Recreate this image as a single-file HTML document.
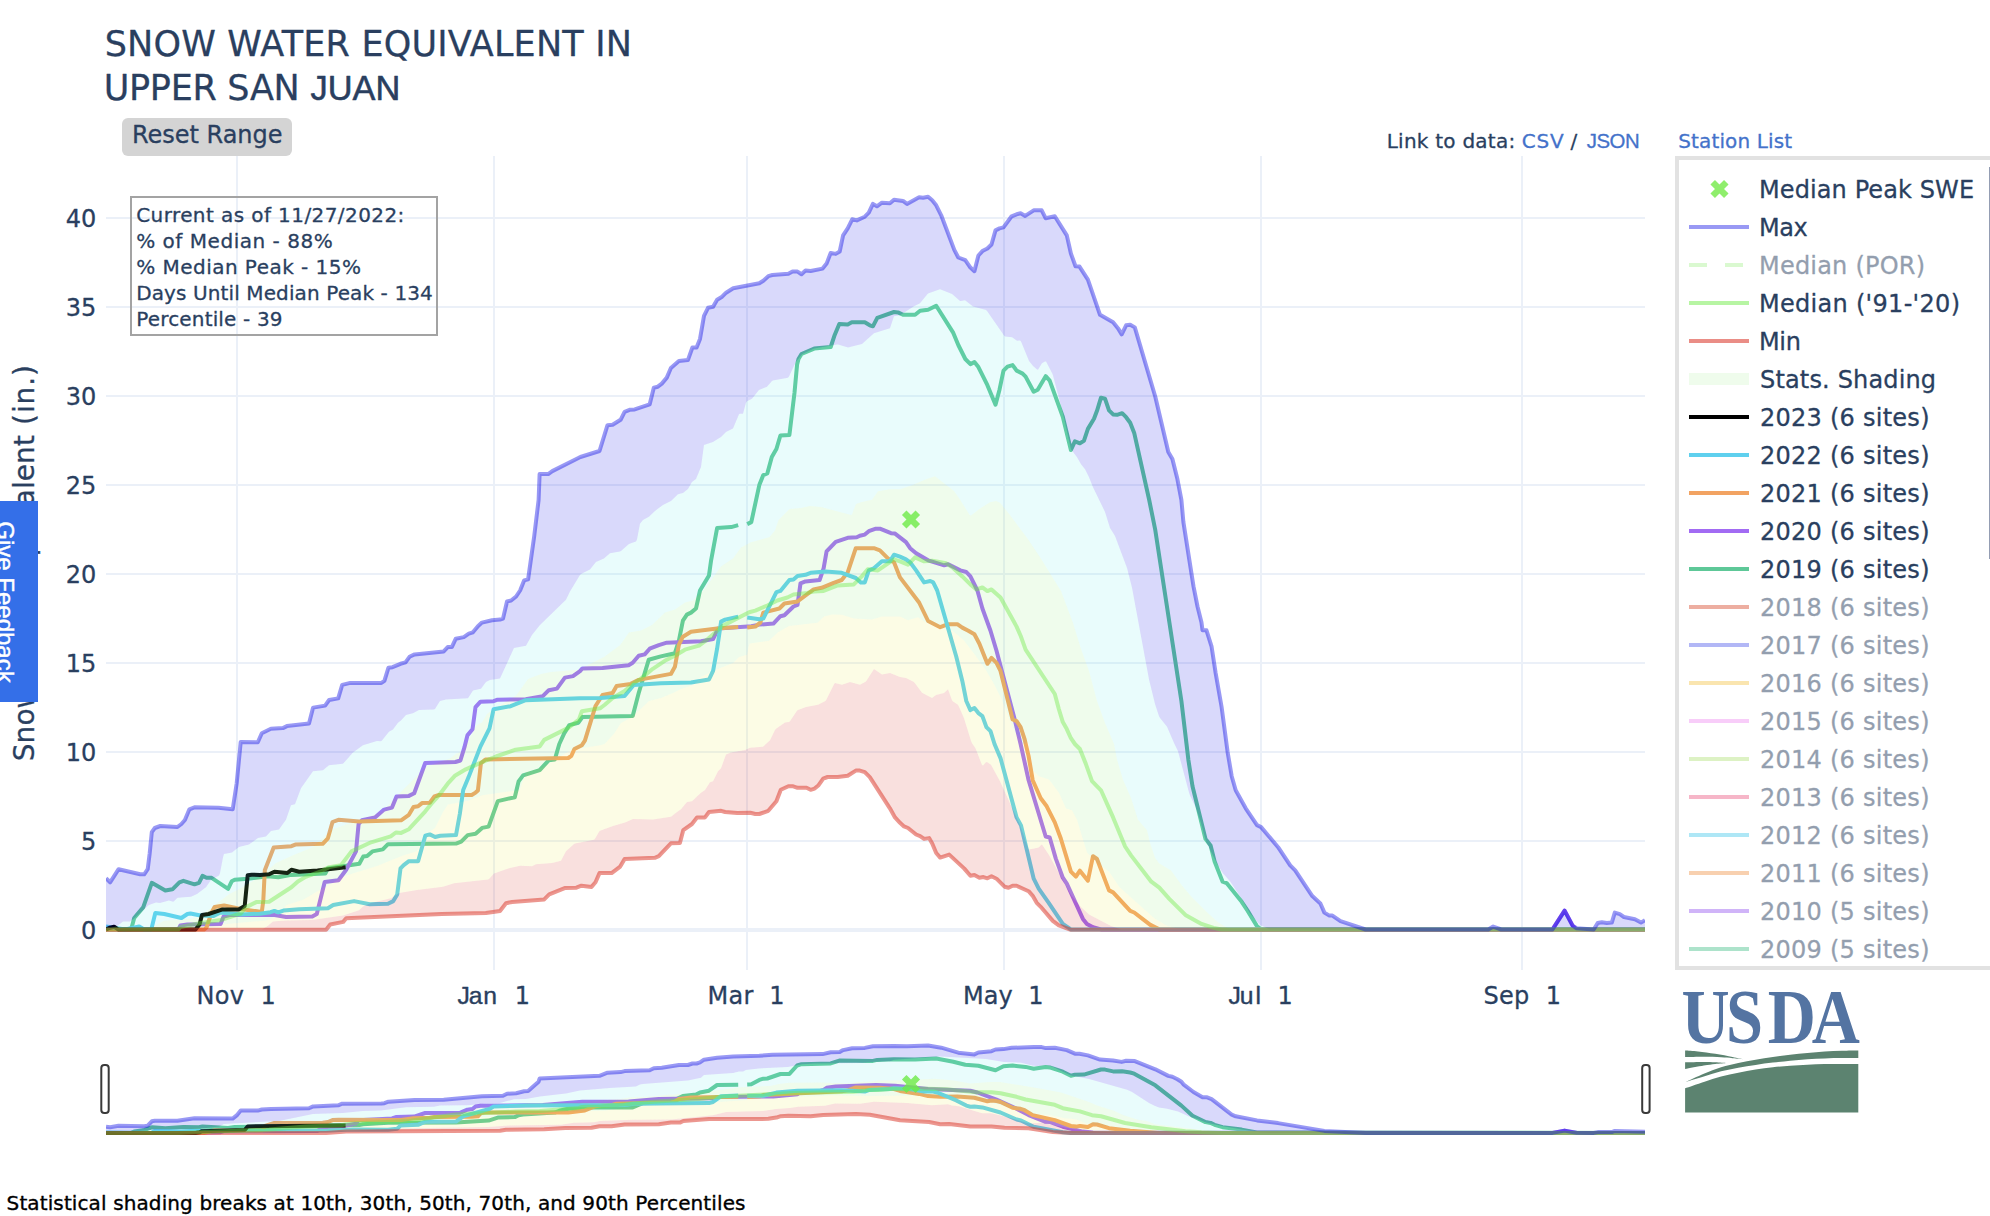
<!DOCTYPE html>
<html lang="en"><head><meta charset="utf-8"><title>Snow Water Equivalent in Upper San Juan</title>
<style>html,body{margin:0;padding:0;background:#fff;}body{width:1990px;height:1216px;overflow:hidden;position:relative;font-family:"DejaVu Sans","Liberation Sans",sans-serif;}svg{position:absolute;left:0;top:0;display:block}text{font-family:"DejaVu Sans","Liberation Sans",sans-serif;stroke-linejoin:round}</style></head><body>
<svg width="1990" height="1216" viewBox="0 0 1990 1216">
<rect width="1990" height="1216" fill="#fff"/>
<g fill="#ebf0f8" shape-rendering="crispEdges">
<rect x="236" y="156" width="2" height="814"/>
<rect x="493" y="156" width="2" height="814"/>
<rect x="746" y="156" width="2" height="814"/>
<rect x="1003" y="156" width="2" height="814"/>
<rect x="1260" y="156" width="2" height="814"/>
<rect x="1521" y="156" width="2" height="814"/>
<rect x="106" y="840" width="1539" height="2"/>
<rect x="106" y="751" width="1539" height="2"/>
<rect x="106" y="662" width="1539" height="2"/>
<rect x="106" y="573" width="1539" height="2"/>
<rect x="106" y="484" width="1539" height="2"/>
<rect x="106" y="395" width="1539" height="2"/>
<rect x="106" y="306" width="1539" height="2"/>
<rect x="106" y="217" width="1539" height="2"/>
<rect x="106" y="928" width="1539" height="4"/>
</g>
<defs><clipPath id="cpm"><rect x="106" y="156" width="1539" height="814"/></clipPath><clipPath id="cps"><rect x="106" y="1040" width="1539" height="99"/></clipPath></defs>
<g clip-path="url(#cpm)" fill="none" stroke-linejoin="round" stroke-linecap="butt">
<path d="M106,929.3L131.2,929.3L134.2,918L143.2,907.4L151.8,882.8L165.3,890.4L172.4,889.3L179.4,882.3L183.4,880.8L194.5,884.3L199,882.8L202.5,875.8L206.5,877.8L211.6,877.8L228.1,888.8L231.7,881.3L234.7,879.8L247.7,878.8L267.8,876.2L278.3,877.3L291.4,874.9L325.3,873.6L327.9,868.4L359.3,863.8L363.2,856.6L367.1,856L372.4,851.4L382.8,849.4L388,844.2L456,843.6L461.2,841.6L467.7,835.1L475.6,833.8L482.1,827.9L488.6,826.6L497.8,801.1L514.8,797.2L518.6,781.4L523.1,775.4L539.7,770.1L548.7,760.3L554.8,759.5L559.3,744L564.3,733.2L569.3,725.1L578.4,722.7L582.4,717.1L632.7,716.1L638.7,693L648.7,659.8L660.8,656.4L674.9,653.2L678.9,640.7L682.9,620.6L686.9,614.6L691,612.6L696,608.5L700,590.5L709,575.4L711.1,560.3L717.1,528.1L731.2,527.1L738.2,525.1" stroke="#5ec898" stroke-width="4"/>
<path d="M747.2,524.1L751.3,522.1L759.3,485.1L763.3,475.1L767.3,473.5L771.8,457L776.4,449L780.4,435.5L789.4,434.9L794.5,392.7L797.1,364.5L798.5,359L801.5,354L814.2,348.6L830.7,347L834.7,334.9L839.3,323.9L847.7,324.5L851.8,322.3L864.8,322.3L869.8,325.3L872.9,326.3L877.3,317.8L894,312L898,312.4L903,314.8L915.1,314.8L920.1,310.8L928.1,309.8L936.2,305.8L953.3,332.9L958.3,345L965.3,359L970.4,364.1L974.4,362.1L978.4,367.1L987.4,385.2L995.5,404.7L999.5,389.7L1003.5,370.6L1007.5,366.6L1012.6,365.1L1016.6,370.6L1022.6,373.6L1025.6,376.6L1033.7,391.7L1037.7,389.7L1045.7,376.2L1049.7,380.6L1062.8,416.8L1070.9,450L1074.9,441.3L1079.9,443.3L1083.9,440.9L1087.9,428.9L1094,418.8L1097,410.8L1101,397.7L1105,398.7L1109,410.4L1113.1,414.4L1117.1,414.8L1122.1,413.2L1126.1,417.2L1130.2,422.8L1134.2,432.9L1149.2,500L1155.3,530.2L1181.4,701L1188.4,760.1L1192.5,786.2L1205.5,838.9L1210.6,845.5L1214.6,861.6L1222.6,881.7L1226.6,883.1L1241.7,901.8L1247.7,910.9L1256.8,925.9L1260.8,929.3L1645,929.3" stroke="#5ec898" stroke-width="4"/>
<path d="M106,929.4L178.4,929.4L180.4,925.5L187.4,924.5L220.6,924L223.6,916.5L229.6,915L273.1,914.8L286.1,917L312.3,916.5L316.8,914.1L324.7,882.1L338.4,880.2L346.2,869.7L356,851.4L358.6,824L361.9,820.3L375,817.4L384.1,809.6L392,807.6L396.5,796.5L408.9,795.9L414.2,793.3L425.2,763L455.4,762L460.4,760.5L464.4,747.4L467.4,735.4L472.5,729.3L475.5,707.2L480.5,701.7L493.6,701.2L497.6,699.7L525.7,699.2L542.8,696.2L548.8,690.2L556.9,688.6L564.9,677.6L573,676.1L580,671.1L582.4,668.4L602.5,668L628.6,665.2L632.7,662.8L638.7,655.8L644.7,654.4L649.7,648.7L658.8,645.1L666.8,642.7L701,641.3L713.1,639.1L718.1,628.6L751.3,626.2L759.3,624.6L773.4,623.6L780.4,616.2L784.4,615.2L793.5,606.5L797.5,604.9L800.5,583.4L805.5,581.4L819.6,580L823.6,568.3L826.6,551.3L835.7,541.8L847.7,537.8L856.8,537.2L859.8,535.8L864.8,534.6L868.8,531.2L875.9,528.7L879.9,528.7L891,533.2L895,533.6L906,542.2L910.1,548.2L916.1,553.3L928.1,560.3L944.2,565.3L948.2,564.3L960.3,570.4L966.3,572L970.4,576.4L977.4,590.5L982.4,608.5L990.5,630.7L996.5,650.8L1014.6,719.1L1020.6,744L1028.6,780.2L1045.7,836.5L1049.7,837.5L1055.8,858.6L1062.8,877.7L1066.8,883.7L1082.9,918.9L1086.9,923.9L1093,927.3L1101,929.4L1552.5,929.4L1564.6,910.6L1572.6,925.6L1576.6,929.4L1645,929.4" stroke="#a26bf3" stroke-width="4"/>
<path d="M106,929.4L204.5,929.4L206.5,927.5L211.6,912.5L214.6,906.9L224.1,905.4L240.7,908.9L261.8,912L263.3,900.4L264.8,870.3L273.7,847.5L291.4,846.2L295.3,844.6L322.7,843.8L327.9,838.3L332.5,822L338.4,819.8L359.3,821.4L401.1,820.3L408.9,814.8L413.5,807L418.1,806.3L422,803.1L429.8,802.8L434.4,796.5L439,795L471.7,795L475.6,792.6L477.9,790.5L480.9,763.3L485.4,759.5L568.3,758L571.4,755.8L574.4,749L581.9,745.2L584.9,740.7L595.5,706L602.5,695L612.6,693L616.6,685.9L630.7,683.9L638.7,679.9L670.9,673.9L674.9,666.8L678.9,644.7L682.9,636.7L691,631.7L717.1,628.6L738.2,627" stroke="#f2a362" stroke-width="4"/>
<path d="M747.2,627.6L755.3,626.6L760.3,622.6L763.3,612.6L779.4,608.5L784.4,603.5L797.5,601.5L813.6,589.4L821.6,587.8L833.7,582.8L841.7,580L847.7,572.4L855.8,548.2L873.9,548.2L879.9,550.3L887.9,558.3L894,562.3L900,577.4L919.1,602.5L928.1,621L940.2,627.2L948.2,624.2L957.3,624.2L962.3,627.6L968.3,630.7L974.4,634.3L979.4,643.7L987.4,663.8L991.5,657.8L996.5,662.8L1000.5,670.9L1012.6,719.5L1016.6,721.1L1020.6,727.1L1024.6,739.2L1028.6,756.1L1032.7,780.2L1040.7,798.3L1046.7,806.3L1054.8,822.4L1060.8,838.5L1070.9,871.7L1075.9,876.7L1079.9,870.7L1087.9,880.7L1093,856.2L1097,859L1109,890.4L1113.1,892.4L1130.2,910.9L1134.2,912.5L1150.3,924.9L1159.3,929.4L1645,929.4" stroke="#f2a362" stroke-width="4"/>
<path d="M106,926.5L125.1,929.4L139.2,926.5L144.2,929.4L151.3,929.4L155.3,913L164.3,914L181.4,918L187.4,914L190.5,913.5L200.5,915.5L213.6,916L220.6,912.5L240.7,914.5L259.8,913.7L270.5,912.2L274.4,910.9L278.3,912.4L283.5,910.6L299.2,909.2L327.9,908.2L333.2,905L354.1,901.1L369.7,904.3L388,903.7L393.3,901.1L397.2,894.5L400.5,868.4L403.7,865.1L408.9,861.2L418.1,861.2L425.3,835.7L429.8,834.4L435.1,837L440.3,835.7L456,835.1L459.9,813.5L463.2,790L468.4,777.6L480.5,746.4L489.5,728.3L493.6,709.2L510.7,706.2L525.7,700.2L580,698.2L600.5,698L624.6,696L633.7,684.9L660.8,683.3L691,682.5L709,679.5L713.1,670.9L717.1,648.7L721.1,621.6L725.1,619.6L738.2,616.6" stroke="#5fd0ee" stroke-width="4"/>
<path d="M747.2,617.6L759.3,619.2L763.3,618.6L776.4,592.1L780.4,590.9L789.4,580L793.5,579.4L797.5,576L805.5,574.8L810.6,572.8L825.6,571.4L841.7,572.8L855.8,578L860.8,582.4L864.8,582.4L868.8,570.4L873.9,568.3L881.9,561.3L889.9,561.3L894,554.7L900,556.7L906,559.3L910.1,562.3L916.1,570.4L924.1,582.4L930.2,581L933.2,582.4L937.2,590.5L956.3,656.8L962.3,680.9L966.3,701L970.4,710.1L974.4,708L978.4,713.1L982.4,716.1L986.4,727.1L990.5,731.2L994.5,744L1000.5,758.1L1016.6,817.4L1021,825.4L1033.7,878.7L1038.7,888.7L1048.7,902.8L1062.8,923.9L1070.9,929.4L1645,929.4" stroke="#5fd0ee" stroke-width="4"/>
<path d="M106,929.4L110.1,927.7L114.1,926.7L118.1,929.4L195.5,929.4L199.5,924.5L202,915L208.5,914L222.6,909.4L238.7,909.4L244.7,905.9L247.7,875.3L251.8,874.8L260,874.9L269.1,874.3L274.4,871.7L287.4,873L291.4,869.7L299.2,871.7L317.5,870.4L345.6,867.3" stroke="#000000" stroke-width="4"/>
<path d="M106,929.5L262,929.5L268,925.7L273,921.4L286,920.4L312,920L343,915.5L359,910.3L363,906.5L371,903L391,898.2L399,893.1L417,889.9L443,886.7L454,883.3L488,879.6L489,879.1L494,873.6L509,868.2L520,865.8L532,866.2L536,864.3L552,863L561,860.7L566,851.2L574,843.9L575,843.4L594,839.8L595,838.8L599,831.7L600,830.7L613,825.9L625,822.6L633,819L653,819.4L671,816.7L677,811.9L681,809.2L687,801.9L692,801.3L701,792.7L705,789.9L710,782.3L713,781.2L718,771.3L721,768.2L726,754.4L731,752.5L745,750.1L750,747.8L763,746.7L770,740.3L775,730L776,728.7L785,722.4L789,722.1L790,721.3L797,710.8L798,709.9L806,707L818,704.8L825,701.3L826,700.3L834,684.3L835,683L842,684.8L850,682L860,684.8L866,681.6L874,668.9L882,674.5L890,672.9L900,676.9L906,677.9L907,678.4L914,681.9L922,692.8L932,697.9L936,695.1L944,693L948,689.2L952,700.2L953,701.5L958,704.8L959,706.7L964,718.3L971,740.8L972,743.2L975,747.5L976,749.6L982,765.1L983,765.5L986,762.2L987,762.1L991,764.8L1000,781.3L1020,825.1L1028,847.7L1029,849.5L1038,847.7L1039,847.2L1041,844.9L1042,844.6L1049,855L1071,894.9L1081,906.9L1089,914.5L1111,925.9L1121,929.5L1645,929.5L1645,929.5L1071,929.5L1059,925.4L1053,921.1L1041,907.2L1037,903.1L1033,896.4L1029,891.6L1028,890.9L1016,885.7L1013,885.7L1009,887.5L1008,887.6L1005,886.9L997,879.2L992,876.5L991,876.5L987,878.2L983,877.1L979,877.5L974,875.1L971,875.6L970,875.3L964,868.3L949,854.7L941,857.3L940,857.4L936,852.5L932,843.2L929,838.1L924,838.8L920,836L916,834.4L908,828L904,826.4L900,822.8L895,817.4L890,808.4L870,777.4L865,772.3L860,770.6L856,770.6L848,775.6L847,775.9L838,776.9L828,777L824,778.3L823,778.9L818,785.7L815,788.3L811,789.7L806,787.8L798,787.8L792,786.2L788,786.4L781,789.8L776,801.8L769,810L768,810.9L760,813.7L755,813.9L750,812.8L737,812.9L725,811.9L721,810.8L709,812L705,817.4L697,817.6L692,824L684,829.6L683,831.2L680,842.5L679,843L671,843.3L659,856L658,856.5L654,857.8L625,859L624,860.1L620,866.8L612,872.7L611,873.1L600,873.1L599,874.2L595,882.9L592,886.3L591,886.9L582,885.8L576,887.7L565,888.1L550,894.1L549,894.6L544,899.4L512,902L506,903.3L500,910.9L486,912.9L442,913.9L347,918.3L346,918.6L343,922L330,924.7L326,929.5L106,929.5Z" fill="rgba(218,47,33,0.15)" stroke="none"/>
<path d="M106,929.5L190,929.5L221,924.5L266,920.4L280,915.8L281,915.3L286,905.2L303,899.8L343,876.6L377,866L403,855.6L416,851.6L417,851L427,833.5L435,827.9L443,812.1L448,804.6L469,800.5L482,795.3L519,790.1L520,789.3L526,772.7L527,772.1L541,767.9L571,750L600,745.2L604,744.2L605,743.5L614,733.8L621,722.9L629,718.8L641,708.7L649,700.9L661,697.9L673,692.9L681,688.9L693,684.9L701,676.9L713,670.9L733,662.9L739,657L747,654.8L749,645.1L750,643.6L769,640.8L778,632.3L789,625.9L817,622.7L818,622.2L824,616.5L832,614.6L842,614.7L854,618.6L871,619.6L872,619.6L882,616.6L900,616.6L908,620.2L918,617.2L926,622.5L940,628.6L952,630.6L964,640.4L976,656.3L986,670.2L994,684.1L1002,700L1009,718.2L1014,729.8L1022,743L1023,743.9L1028,742.2L1029,744.5L1033,770.5L1039,776.3L1049,779.5L1059,792.7L1066,808.4L1072,810.2L1077,819.8L1087,852.6L1099,864.6L1109,871.6L1119,886.6L1120,887.6L1141,906.6L1155,918.7L1167,925.7L1182,929.5L1645,929.5L1645,929.5L1121,929.5L1111,925.9L1089,914.5L1081,906.9L1071,894.9L1049,855L1042,844.6L1041,844.9L1039,847.2L1038,847.7L1029,849.5L1028,847.7L1020,825.1L1000,781.3L991,764.8L987,762.1L986,762.2L983,765.5L982,765.1L976,749.6L975,747.5L972,743.2L971,740.8L964,718.3L959,706.7L958,704.8L953,701.5L952,700.2L948,689.2L944,693L936,695.1L932,697.9L922,692.8L914,681.9L907,678.4L906,677.9L900,676.9L890,672.9L882,674.5L874,668.9L866,681.6L860,684.8L850,682L842,684.8L835,683L834,684.3L826,700.3L825,701.3L818,704.8L806,707L798,709.9L797,710.8L790,721.3L789,722.1L785,722.4L776,728.7L775,730L770,740.3L763,746.7L750,747.8L745,750.1L731,752.5L726,754.4L721,768.2L718,771.3L713,781.2L710,782.3L705,789.9L701,792.7L692,801.3L687,801.9L681,809.2L677,811.9L671,816.7L653,819.4L633,819L625,822.6L613,825.9L600,830.7L599,831.7L595,838.8L594,839.8L575,843.4L574,843.9L566,851.2L561,860.7L552,863L536,864.3L532,866.2L520,865.8L509,868.2L494,873.6L489,879.1L488,879.6L454,883.3L443,886.7L417,889.9L399,893.1L391,898.2L371,903L363,906.5L359,910.3L343,915.5L312,920L286,920.4L273,921.4L268,925.7L262,929.5L106,929.5Z" fill="rgba(237,237,78,0.15)" stroke="none"/>
<path d="M106,929.5L148,929.5L164,920.7L190,919L200,916.6L229,894.2L241,888.2L261,876.1L276,863L293,855.2L312,847.6L333,829.3L351,822.8L371,816.1L380,812.3L381,813L397,796L426,766.9L427,766.2L450,758.6L456,753.8L462,751.6L463,750.4L476,726.2L477,725.1L482,722.6L487,713.9L495,708L516,695.7L528,679L541,674L551,672L580,669.5L581,668.5L604,657L620,645.2L629,632.6L641,630.5L652,625L665,612.5L675,609.5L685,602.5L693,600.5L705,588.5L721,566.5L733,558.4L741,547.5L751,542.3L769,537.3L770,536.4L775,530.6L778,521.4L779,519.5L789,509.5L790,509L801,508.1L810,506.1L821,507L851,514.9L852,514.4L856,503.9L862,502L872,499.8L878,491.2L890,489.2L900,489.2L912,485.2L926,479.2L935,476.2L954,491L960,499.6L970,515.5L971,515.6L980,508.4L990,502.3L996,501.1L1000,502.8L1009,513.7L1028,539.3L1041,558.8L1061,591L1073,623.1L1081,649L1089,671.1L1097,701L1105,723L1114,743.9L1117,759.6L1123,779.8L1131,797.9L1138,819.8L1147,830.2L1150,842.8L1155,857.8L1159,863.2L1171,870.4L1181,884.2L1191,896.2L1207,912.3L1218,922.2L1230,929.5L1645,929.5L1645,929.5L1182,929.5L1167,925.7L1155,918.7L1141,906.6L1120,887.6L1119,886.6L1109,871.6L1099,864.6L1087,852.6L1077,819.8L1072,810.2L1066,808.4L1059,792.7L1049,779.5L1039,776.3L1033,770.5L1029,744.5L1028,742.2L1023,743.9L1022,743L1014,729.8L1009,718.2L1002,700L994,684.1L986,670.2L976,656.3L964,640.4L952,630.6L940,628.6L926,622.5L918,617.2L908,620.2L900,616.6L882,616.6L872,619.6L871,619.6L854,618.6L842,614.7L832,614.6L824,616.5L818,622.2L817,622.7L789,625.9L778,632.3L769,640.8L750,643.6L749,645.1L747,654.8L739,657L733,662.9L713,670.9L701,676.9L693,684.9L681,688.9L673,692.9L661,697.9L649,700.9L641,708.7L629,718.8L621,722.9L614,733.8L605,743.5L604,744.2L600,745.2L571,750L541,767.9L527,772.1L526,772.7L520,789.3L519,790.1L482,795.3L469,800.5L448,804.6L443,812.1L435,827.9L427,833.5L417,851L416,851.6L403,855.6L377,866L343,876.6L303,899.8L286,905.2L281,915.3L280,915.8L266,920.4L221,924.5L190,929.5L106,929.5Z" fill="rgba(150,235,125,0.15)" stroke="none"/>
<path d="M106,929.5L118,925.6L123,921.6L130,921.5L134,918.6L148,905.7L149,905.1L156,902.5L160,902.9L169,900.5L173,901.8L174,901.3L177,898.3L178,897.8L191,896.7L197,894L206,887.2L211,880.1L219,875.6L220,873.2L223,857.4L224,854.1L231,852.8L232,852.4L239,847.1L249,844.4L258,838.1L266,836.4L271,831L279,829.4L286,819.8L291,805.3L295,804.3L301,788.3L313,771.2L323,770.2L329,765.2L343,763.7L353,752.4L363,745.2L377,741.1L381,741.2L382,740.5L389,731.7L393,729.4L398,722.7L401,720.5L406,715L413,713.2L419,710L434,709.5L435,708.9L440,700.9L446,699.4L468,698.3L473,690.5L481,688.8L486,681.9L490,679.9L500,678.5L514,647.9L526,645.8L532,635L540,624.9L566,599.8L570,591.4L580,575L581,574.1L590,569.6L596,562.1L604,558.5L610,553.2L620,551.4L621,550.9L629,544.1L636,541.5L637,539.4L640,523.7L643,520L649,516.8L655,510.9L663,504.9L671,500.9L678,494.2L683,493.1L688,489.1L692,482.1L696,479.1L701,467.1L704,445.1L713,442L721,437L726,432L733,428.5L739,414.3L740,413.8L743,413.8L746,402.7L747,401.3L752,398.8L759,390L767,386.8L772,381.1L773,380.5L788,377.7L789,376.4L796,361.8L802,354.2L814,348.4L837,344.6L838,344.5L848,347.4L862,343.9L874,333.3L890,328.2L894,316.3L900,315.3L914,306.3L920,303.3L928,293.4L940,289.2L952,294.1L960,301L961,301.1L965,300.3L973,306.4L986,310.1L987,311.1L1004,335.6L1005,336.5L1012,337.3L1017,340.8L1020,340.5L1021,341.4L1029,361L1033,365.9L1037,369.5L1038,369.7L1042,363.3L1045,361.4L1046,361.5L1052,373.1L1053,375.5L1063,413.6L1071,449.2L1077,457.2L1081,464.2L1085,469.2L1089,477.2L1093,487.2L1105,512L1110,528L1115,536.1L1127,568L1132,587.8L1149,679.5L1155,703.9L1159,716.2L1160,718L1167,726.7L1174,743.1L1178,751.3L1189,792.6L1190,795.4L1196,807.9L1201,822.9L1206,841.4L1217,863.4L1223,873.6L1230,881.2L1242,899.3L1250,913.2L1260,925L1270,929.5L1645,929.5L1645,929.5L1230,929.5L1218,922.2L1207,912.3L1191,896.2L1181,884.2L1171,870.4L1159,863.2L1155,857.8L1150,842.8L1147,830.2L1138,819.8L1131,797.9L1123,779.8L1117,759.6L1114,743.9L1105,723L1097,701L1089,671.1L1081,649L1073,623.1L1061,591L1041,558.8L1028,539.3L1009,513.7L1000,502.8L996,501.1L990,502.3L980,508.4L971,515.6L970,515.5L960,499.6L954,491L935,476.2L926,479.2L912,485.2L900,489.2L890,489.2L878,491.2L872,499.8L862,502L856,503.9L852,514.4L851,514.9L821,507L810,506.1L801,508.1L790,509L789,509.5L779,519.5L778,521.4L775,530.6L770,536.4L769,537.3L751,542.3L741,547.5L733,558.4L721,566.5L705,588.5L693,600.5L685,602.5L675,609.5L665,612.5L652,625L641,630.5L629,632.6L620,645.2L604,657L581,668.5L580,669.5L551,672L541,674L528,679L516,695.7L495,708L487,713.9L482,722.6L477,725.1L476,726.2L463,750.4L462,751.6L456,753.8L450,758.6L427,766.2L426,766.9L397,796L381,813L380,812.3L371,816.1L351,822.8L333,829.3L312,847.6L293,855.2L276,863L261,876.1L241,888.2L229,894.2L200,916.6L190,919L164,920.7L148,929.5L106,929.5Z" fill="rgba(109,234,236,0.15)" stroke="none"/>
<path d="M106,878.3L110,882.3L118,870.2L119,869.3L140,874.2L144,874.3L147,870.3L148,867.2L152,831.7L155,828L161,826.1L177,827L178,826.6L181,824.3L185,819.8L189,810.4L190,809.1L194,807.5L218,807.7L232,809.3L233,807.2L236,787.7L241,742L257,742.2L258,741.7L262,733.1L271,728.7L283,728.1L287,726.1L309,723.5L313,707.9L325,705.6L329,700.2L338,698.4L342,685.6L343,684.7L351,682.9L381,682.9L382,682.5L384,681.2L385,679L388,669.3L389,667.8L393,667L400,664L405,662.6L410,656.6L415,654.3L443,651.4L444,651.1L448,647.1L451,647.1L452,646.6L456,638.6L464,637L469,633.6L473,632.1L478,626.1L482,622.6L492,620.2L500,619.6L503,618.6L507,601.7L511,600.5L516,596.5L520,590.6L524,580.7L528,579.4L534,537.4L538,505.1L540,474.1L548,474.1L553,470.7L580,457.2L599,451.1L600,449.5L607,427.1L608,425.2L613,424.6L620,420.2L621,419L625,411.6L630,409.7L635,409.3L649,404.6L650,403.3L654,387.6L658,386.5L662,383.4L667,377.2L671,367.8L678,361.7L679,360.9L688,359.9L692,348.5L693,347.5L696,347.5L697,346.4L700,338.9L704,315.9L708,307.9L713,306.8L717,299.9L722,296.8L726,292.8L733,288.4L759,283.3L763,280.9L768,276.5L772,275.1L788,273.9L793,271.6L797,271.6L801,273.9L802,273.8L805,271.1L806,270.6L811,270.9L822,268.7L823,268.1L826,264.4L831,253L836,253.7L839,251.9L840,250.1L843,236L848,227.9L852,219.7L853,219.5L857,220.2L865,216.6L869,212.4L873,204L877,206.2L882,202.7L890,203.2L894,199.9L903,200.9L907,203.8L919,197.3L923,197.8L928,196.9L932,200.1L936,205.1L941,214.9L954,249.2L958,257L959,257.8L965,260L970,267.1L974,270.9L975,268.8L978,257.1L979,254.9L982,251.6L987,248.7L991,244.9L992,242.6L995,232.1L996,230.1L999,228.6L1003,227.5L1004,226.7L1012,216.2L1020,213.5L1021,213.5L1025,215.8L1034,210.3L1041,210.3L1042,210.9L1046,218.3L1054,216.5L1055,216.7L1067,236.2L1071,253.9L1075,264.9L1076,266.2L1079,266.5L1080,267.4L1088,279.8L1100,314.8L1113,322.3L1118,328.3L1121,333.2L1122,333.8L1126,325.6L1130,324.8L1134,326.9L1135,328.1L1155,395.8L1168,450.6L1169,453.1L1172,458.4L1177,477.6L1181,497.9L1184,526L1189,559.3L1194,589.1L1197,604.1L1203,630.3L1206,630.3L1207,631.8L1211,644.9L1212,649.6L1222,709.9L1228,754.2L1232,777.4L1235,787.9L1236,790.8L1246,808.7L1257,825.1L1261,827.1L1278,847.1L1290,865L1296,871.5L1312,895.6L1320,903.2L1324,911.7L1325,912.9L1329,915.3L1333,916L1341,921.4L1366,929.5L1488,929.5L1493,926.8L1502,929.5L1552,929.5L1553,928.7L1564,911.5L1565,911.4L1572,924.5L1573,925.9L1577,928.3L1593,929.4L1594,929L1598,923L1602,922.2L1607,923L1611,922.7L1612,922L1615,912.6L1620,914.3L1624,917L1635,919.2L1641,922.6L1645,920.2L1645,929.5L1270,929.5L1260,925L1250,913.2L1242,899.3L1230,881.2L1223,873.6L1217,863.4L1206,841.4L1201,822.9L1196,807.9L1190,795.4L1189,792.6L1178,751.3L1174,743.1L1167,726.7L1160,718L1159,716.2L1155,703.9L1149,679.5L1132,587.8L1127,568L1115,536.1L1110,528L1105,512L1093,487.2L1089,477.2L1085,469.2L1081,464.2L1077,457.2L1071,449.2L1063,413.6L1053,375.5L1052,373.1L1046,361.5L1045,361.4L1042,363.3L1038,369.7L1037,369.5L1033,365.9L1029,361L1021,341.4L1020,340.5L1017,340.8L1012,337.3L1005,336.5L1004,335.6L987,311.1L986,310.1L973,306.4L965,300.3L961,301.1L960,301L952,294.1L940,289.2L928,293.4L920,303.3L914,306.3L900,315.3L894,316.3L890,328.2L874,333.3L862,343.9L848,347.4L838,344.5L837,344.6L814,348.4L802,354.2L796,361.8L789,376.4L788,377.7L773,380.5L772,381.1L767,386.8L759,390L752,398.8L747,401.3L746,402.7L743,413.8L740,413.8L739,414.3L733,428.5L726,432L721,437L713,442L704,445.1L701,467.1L696,479.1L692,482.1L688,489.1L683,493.1L678,494.2L671,500.9L663,504.9L655,510.9L649,516.8L643,520L640,523.7L637,539.4L636,541.5L629,544.1L621,550.9L620,551.4L610,553.2L604,558.5L596,562.1L590,569.6L581,574.1L580,575L570,591.4L566,599.8L540,624.9L532,635L526,645.8L514,647.9L500,678.5L490,679.9L486,681.9L481,688.8L473,690.5L468,698.3L446,699.4L440,700.9L435,708.9L434,709.5L419,710L413,713.2L406,715L401,720.5L398,722.7L393,729.4L389,731.7L382,740.5L381,741.2L377,741.1L363,745.2L353,752.4L343,763.7L329,765.2L323,770.2L313,771.2L301,788.3L295,804.3L291,805.3L286,819.8L279,829.4L271,831L266,836.4L258,838.1L249,844.4L239,847.1L232,852.4L231,852.8L224,854.1L223,857.4L220,873.2L219,875.6L211,880.1L206,887.2L197,894L191,896.7L178,897.8L177,898.3L174,901.3L173,901.8L169,900.5L160,902.9L156,902.5L149,905.1L148,905.7L134,918.6L130,921.5L123,921.6L118,925.6L106,929.5Z" fill="rgba(0,0,228,0.15)" stroke="none"/>
<path d="M106,929.8L326.1,929.8L330.2,924.5L343.2,921.9L346.2,918.3L441.7,913.9L485.9,912.9L500,910.9L506,903.2L512.1,902L544.2,899.4L549.2,894.4L565.3,887.9L576.4,887.7L581.4,885.7L591.5,886.9L595.5,882.3L599.5,873.1L611.6,873.1L620.2,866.6L624.6,859L654.8,857.8L658.8,856.2L670.9,843.3L679.9,842.9L683.3,830.1L692,824L697,817.6L705,817.4L709,812L721.1,810.8L725.1,812L737.2,813L750.3,812.8L755.3,814L759.3,814L768.3,810.8L776.4,801.3L780.8,789.8L788.4,786.2L792.5,786.2L797.5,787.8L806.5,787.8L810.6,789.8L814.6,788.6L818.6,785.2L823.2,778.6L827.6,777L837.7,777L847.7,775.8L855.8,770.6L859.8,770.6L864.8,772.2L869.8,777.2L889.9,808.3L895,817.4L900,822.8L904,826.4L908,828L916.1,834.5L920.1,836.1L924.1,838.9L929.1,838.1L932.2,843.5L936.2,853L940.2,857.6L949.2,854.6L964.3,868.6L970.4,875.7L974.4,875.1L979.4,877.7L983.4,877.1L987.4,878.3L991.5,876.3L996.5,878.7L1004.5,886.7L1008.5,887.7L1012.6,885.7L1016.6,885.7L1028.6,891.2L1032.7,895.8L1036.7,902.8L1040.7,906.8L1052.8,920.9L1058.8,925.3L1070.9,929.8L1645,929.8" stroke="rgba(218,47,33,0.5)" stroke-width="4"/>
<path d="M106,929.5L178.4,929.5L180.4,927L195.5,924L220.6,920L240.7,913.5L245.7,907.4L256.8,901.9L269.1,901.7L291.4,887.3L297.9,881.5L305.7,876.9L320.1,871.7L329.2,867.1L341,865.1L351.5,851.4L371.1,842.3L390.7,836.4L395.9,832.5L401.1,832.9L408.9,829.2L425.1,811.6L431.2,804L438.7,795.7L447.7,783.7L455.3,775.4L465.8,769.3L480.9,762.6L496,756.5L515.6,749.7L539.7,746.4L544.2,739.9L568.3,727.9L578.9,719.6L581.9,711.3L600,708.3L604.5,705L612.6,698L624.6,691L632.7,683.9L640.7,678.9L652.8,668.8L664.8,660.8L674.9,655.8L684.9,649.7L699,645.7L707,639.7L723.1,625.6L749.2,612.2L755.3,610.6L767.3,605.5L777.4,600.5L787.4,597.5L793.5,594.5L807.5,592.9L813.6,591.5L823.6,590.9L837.7,585.4L853.8,584.4L861.8,576.4L867.8,569.3L877.9,570.4L894,559.3L900,561.3L908,564.7L915.1,557.3L924.1,561.3L932.2,560.7L946.2,563.3L952.3,567.3L962.3,576.4L970.4,584.4L976.4,589.4L982.4,587.4L987.4,591.1L991.5,589.4L1000.5,597.5L1016.6,626.6L1020.6,635.7L1025.6,649.7L1054.8,694L1058.8,709L1062.8,722.1L1066.8,729.1L1070.9,738.2L1074.9,744L1079.9,749L1085.9,764.1L1092,781.2L1101,790.3L1113.1,817.4L1125.1,846.5L1131.2,855.6L1151.3,881.7L1159.3,887.7L1169.3,898.8L1185.4,914.9L1201.5,923.9L1213.6,927.9L1221.6,929.5L1645,929.5" stroke="rgba(109,234,70,0.42)" stroke-width="4"/>
<path d="M106,878.3L110.1,882.3L118.6,869.2L140.2,874.3L144.2,874.3L147.7,869.2L149.7,853.2L151.8,832.1L154.8,828L160.3,826L177.4,827L181.4,824L184.9,820L189.4,809.3L194.5,807.3L218.6,807.7L232.7,809.3L236.7,783.2L240.7,742L257.8,742.2L261.8,733.2L270.9,728.7L282.9,728.1L286.9,726.1L309,723.5L313.1,707.6L325.1,705.6L329.1,700L338.2,698.4L342.2,684.9L350.3,682.9L381.4,682.9L384.4,680.9L388.4,667.8L392.5,667.2L400.5,663.8L405.5,662.4L409.5,656.8L414.6,654.4L443.7,651.4L447.7,647.1L451.8,647.1L455.8,638.7L463.8,637.1L468.8,633.7L472.9,632.3L477.9,626.2L481.9,622.6L492,620.2L500,619.6L503,618.6L507,601.5L511.1,600.5L516.1,596.5L520.1,590.5L524.1,580.4L528.1,579.4L534.2,536.2L538.6,500L539.6,474.1L548.2,474.1L552.3,471.1L580.4,457L599.5,451L607.5,425.2L612.6,424.8L620.6,419.8L624.6,411.8L629.6,409.8L634.7,409.4L649.7,404.3L653.8,387.7L657.8,386.7L661.8,383.6L666.8,377.6L670.9,368L678.9,360.9L687.9,360.1L692.4,347.5L696.6,347.5L700,338.9L704,315.8L708,307.8L713.1,306.8L717.1,299.7L722.1,296.7L726.1,292.7L733.2,288.3L759.3,283.3L763.3,280.7L768.3,276.2L772.4,275L788.4,273.8L792.5,271.6L797.5,271.6L801.5,274.2L805.5,270.6L810.6,271L822.6,268.6L826.6,263.6L830.7,252.9L835.7,253.9L839.7,251.5L843.1,235.4L847.7,228.4L852.2,219.3L856.8,220.4L864.8,216.7L868.8,212.7L872.9,203.9L876.9,206.3L881.9,202.7L889.9,203.3L894,199.8L903,200.9L907,203.9L919.1,197.2L923.1,197.8L928.1,196.8L932.2,200.3L936.2,205.3L941.2,215.3L954.3,249.9L958.3,257.5L965.3,260.2L970.4,267.6L974.4,271.2L978.4,255.5L982.4,251.1L987.4,248.5L991.5,244.5L995.5,230.4L999.5,228.4L1003.5,227.4L1011.6,216.3L1016.6,214.3L1020.6,213.3L1025.2,215.9L1033.7,210.3L1041.7,210.3L1045.7,218.3L1054.8,216.3L1066.8,235.4L1070.9,253.5L1075.5,266.2L1079.5,266.6L1087.9,279.6L1100,314.8L1113.1,322.3L1118.1,328.4L1121.7,334.4L1126.1,325.3L1130.2,324.7L1134.8,327.4L1155.3,396.7L1168.3,452L1172.4,459L1177.4,479.1L1181.4,500L1183.4,522.1L1193.5,586.4L1197.5,606.5L1201.5,622.6L1202.5,630.3L1206.5,630.3L1211.6,646.7L1215.6,672.9L1221.6,707L1227.6,752.1L1231.7,776.2L1235.7,790.3L1245.7,808.3L1257,825.1L1261.1,827.1L1278.1,847.2L1290.2,865.3L1295.2,870.4L1312.3,896.1L1320.4,903.5L1324.4,912.6L1329.4,915.6L1332.4,915.6L1340.5,921.2L1365.6,929.5L1488.2,929.5L1493.2,926.6L1501.3,929.5L1552.5,929.5L1564.6,910.6L1572.6,925.6L1576.6,928.2L1593.7,929.5L1597.7,923L1601.8,922.2L1606.8,923L1611.8,922.6L1614.8,912.6L1619.8,914.2L1623.9,917L1634.9,919.2L1641,922.6L1645,920.2" stroke="rgba(0,0,228,0.4)" stroke-width="4"/>
<path transform="translate(911.0,519.5)" d="M0,4.53l4.53,4.53l4.53,-4.53l-4.53,-4.53l4.53,-4.53l-4.53,-4.53l-4.53,4.53l-4.53,-4.53l-4.53,4.53l4.53,4.53l-4.53,4.53l4.53,4.53Z" fill="rgba(109,234,70,0.8)"/>
</g>
<g clip-path="url(#cps)" fill="none" stroke-linejoin="round" stroke-linecap="butt">
<path d="M106,1132.9L131.2,1132.9L134.2,1131.5L143.2,1130.3L151.8,1127.3L165.3,1128.2L183.4,1127.1L199,1127.3L202.5,1126.5L228.1,1128L234.7,1127L325.3,1126.2L327.9,1125.6L359.3,1125.1L363.2,1124.2L388,1122.7L456,1122.6L488.6,1120.6L497.8,1117.6L514.8,1117.1L518.6,1115.2L523.1,1114.5L554.8,1112.6L559.3,1110.8L569.3,1108.5L582.4,1107.6L632.7,1107.4L648.7,1100.7L674.9,1099.9L682.9,1096L696,1094.6L700,1092.5L709,1090.7L717.1,1085L738.2,1084.7" stroke="#5ec898" stroke-width="4"/>
<path d="M747.2,1084.5L751.3,1084.3L759.3,1079.9L763.3,1078.7L767.3,1078.5L780.4,1074L789.4,1073.9L797.1,1065.5L801.5,1064.2L830.7,1063.4L839.3,1060.6L872.9,1060.9L877.3,1059.9L894,1059.2L915.1,1059.6L936.2,1058.5L953.3,1061.7L965.3,1064.8L978.4,1065.8L995.5,1070.3L1003.5,1066.2L1012.6,1065.6L1025.6,1066.9L1033.7,1068.7L1045.7,1066.9L1049.7,1067.4L1062.8,1071.7L1070.9,1075.7L1074.9,1074.7L1083.9,1074.6L1101,1069.5L1105,1069.6L1113.1,1071.4L1122.1,1071.3L1130.2,1072.5L1134.2,1073.7L1155.3,1085.3L1181.4,1105.6L1192.5,1115.8L1205.5,1122.1L1210.6,1122.9L1214.6,1124.8L1222.6,1127.2L1241.7,1129.6L1256.8,1132.5L1645,1132.9" stroke="#5ec898" stroke-width="4"/>
<path d="M106,1132.9L178.4,1132.9L220.6,1132.2L223.6,1131.3L229.6,1131.2L316.8,1131.1L324.7,1127.2L338.4,1127L356,1123.6L358.6,1120.3L392,1118.4L396.5,1117L414.2,1116.6L425.2,1113L460.4,1112.7L467.4,1109.7L472.5,1109L475.5,1106.4L480.5,1105.7L542.8,1105.1L582.4,1101.8L628.6,1101.4L658.8,1099L713.1,1098.3L718.1,1097L773.4,1096.4L797.5,1094.2L800.5,1091.6L819.6,1091.2L823.6,1089.8L826.6,1087.8L835.7,1086.6L875.9,1085.1L895,1085.7L928.1,1088.9L970.4,1090.8L977.4,1092.5L996.5,1099.6L1014.6,1107.8L1028.6,1115.1L1045.7,1121.8L1049.7,1121.9L1062.8,1126.7L1082.9,1131.6L1093,1132.6L1552.5,1132.9L1564.6,1130.6L1576.6,1132.9L1645,1132.9" stroke="#a26bf3" stroke-width="4"/>
<path d="M106,1132.9L204.5,1132.9L214.6,1130.2L261.8,1130.8L263.3,1129.4L264.8,1125.8L273.7,1123.1L322.7,1122.7L327.9,1122L332.5,1120.1L338.4,1119.8L401.1,1119.9L413.5,1118.3L429.8,1117.8L434.4,1117L471.7,1116.8L477.9,1116.3L480.9,1113.1L485.4,1112.6L568.3,1112.4L584.9,1110.4L595.5,1106.2L602.5,1104.9L612.6,1104.7L616.6,1103.8L670.9,1102.4L674.9,1101.6L678.9,1098.9L691,1097.4L738.2,1096.8" stroke="#f2a362" stroke-width="4"/>
<path d="M747.2,1096.9L760.3,1096.3L763.3,1095.1L841.7,1091.2L847.7,1090.3L855.8,1087.4L879.9,1087.7L894,1089.1L900,1090.9L919.1,1093.9L928.1,1096.1L940.2,1096.8L957.3,1096.5L974.4,1097.7L987.4,1101.2L991.5,1100.5L996.5,1101.1L1000.5,1102L1012.6,1107.8L1020.6,1108.8L1024.6,1110.2L1032.7,1115.1L1054.8,1120.1L1070.9,1126L1075.9,1126.6L1079.9,1125.9L1087.9,1127.1L1093,1124.2L1097,1124.5L1109,1128.2L1130.2,1130.7L1159.3,1132.9L1645,1132.9" stroke="#f2a362" stroke-width="4"/>
<path d="M106,1132.5L151.3,1132.9L155.3,1130.9L181.4,1131.5L190.5,1131L327.9,1130.4L354.1,1129.5L388,1129.8L397.2,1128.7L400.5,1125.6L418.1,1124.8L425.3,1121.7L456,1121.6L463.2,1116.3L489.5,1108.9L493.6,1106.6L525.7,1105.5L624.6,1105L633.7,1103.7L709,1103.1L713.1,1102L721.1,1096.2L738.2,1095.6" stroke="#5fd0ee" stroke-width="4"/>
<path d="M747.2,1095.7L763.3,1095.8L776.4,1092.6L797.5,1090.7L841.7,1090.3L864.8,1091.5L868.8,1090.1L889.9,1089L894,1088.2L910.1,1089.1L924.1,1091.5L933.2,1091.5L937.2,1092.5L956.3,1100.4L966.3,1105.6L970.4,1106.7L974.4,1106.5L982.4,1107.4L1000.5,1112.5L1016.6,1119.5L1021,1120.5L1033.7,1126.8L1062.8,1132.2L1070.9,1132.9L1645,1132.9" stroke="#5fd0ee" stroke-width="4"/>
<path d="M106,1132.9L195.5,1132.9L199.5,1132.3L202,1131.2L244.7,1130.1L247.7,1126.4L345.6,1125.5" stroke="#000000" stroke-width="4"/>
<path d="M106,1132.9L262,1132.9L273,1131.9L343,1131.2L399,1128.6L488,1126.9L509,1125.6L561,1124.7L574,1122.7L594,1122.2L600,1121.1L633,1119.7L671,1119.4L713,1115.2L726,1112L763,1111.1L776,1108.9L790,1108.1L798,1106.7L825,1105.7L835,1103.5L860,1103.7L874,1101.8L907,1102.9L932,1105.3L948,1104.2L952,1105.5L959,1106.3L982,1113.3L991,1113.3L1000,1115.2L1029,1123.4L1042,1122.8L1071,1128.8L1081,1130.2L1121,1132.9L1645,1132.9L1645,1132.9L1071,1132.9L1053,1131.9L1028,1128.3L1005,1127.8L992,1126.6L970,1126.4L949,1124L940,1124.3L929,1122L900,1120.2L870,1114.8L856,1113.9L824,1114.9L811,1116.2L788,1115.8L781,1116.2L769,1118.6L760,1119.1L709,1118.9L684,1121L680,1122.5L671,1122.6L658,1124.2L625,1124.5L612,1126.1L600,1126.2L591,1127.8L565,1128L544,1129.3L506,1129.8L500,1130.7L347,1131.6L326,1132.9L106,1132.9Z" fill="rgba(218,47,33,0.15)" stroke="none"/>
<path d="M106,1132.9L190,1132.9L280,1131.3L286,1130L343,1126.6L417,1123.5L427,1121.5L435,1120.8L448,1118L519,1116.3L526,1114.2L571,1111.5L604,1110.8L621,1108.3L649,1105.6L693,1103.7L733,1101.1L747,1100.1L750,1098.8L769,1098.5L789,1096.7L817,1096.3L832,1095.3L871,1095.9L918,1095.6L964,1098.4L994,1103.6L1022,1110.7L1028,1110.6L1033,1113.9L1049,1115L1066,1118.5L1072,1118.7L1077,1119.8L1087,1123.7L1109,1126L1120,1127.9L1167,1132.5L1645,1132.9L1645,1132.9L1121,1132.9L1081,1130.2L1071,1128.8L1042,1122.8L1029,1123.4L1000,1115.2L991,1113.3L982,1113.3L959,1106.3L952,1105.5L948,1104.2L932,1105.3L907,1102.9L874,1101.8L860,1103.7L835,1103.5L825,1105.7L798,1106.7L790,1108.1L776,1108.9L763,1111.1L726,1112L713,1115.2L671,1119.4L633,1119.7L600,1121.1L594,1122.2L574,1122.7L561,1124.7L509,1125.6L488,1126.9L399,1128.6L343,1131.2L273,1131.9L262,1132.9L106,1132.9Z" fill="rgba(237,237,78,0.15)" stroke="none"/>
<path d="M106,1132.9L148,1132.9L164,1131.8L200,1131.4L276,1125L312,1123.1L333,1121L381,1119L426,1113.5L462,1111.7L476,1108.6L487,1107.2L516,1105L528,1103L580,1101.9L620,1099L629,1097.5L652,1096.6L665,1095.1L693,1093.6L741,1087.3L770,1086L779,1084L789,1082.8L821,1082.5L851,1083.4L856,1082.1L872,1081.6L878,1080.6L900,1080.4L935,1078.8L954,1080.6L970,1083.5L990,1081.9L1000,1082L1041,1088.7L1061,1092.5L1089,1102.1L1097,1105.6L1114,1110.8L1123,1115L1138,1119.8L1147,1121.1L1155,1124.3L1218,1132L1230,1132.9L1645,1132.9L1645,1132.9L1167,1132.5L1120,1127.9L1109,1126L1087,1123.7L1077,1119.8L1072,1118.7L1066,1118.5L1049,1115L1033,1113.9L1028,1110.6L1022,1110.7L994,1103.6L964,1098.4L918,1095.6L871,1095.9L832,1095.3L817,1096.3L789,1096.7L769,1098.5L750,1098.8L747,1100.1L733,1101.1L693,1103.7L649,1105.6L621,1108.3L604,1110.8L571,1111.5L526,1114.2L519,1116.3L448,1118L435,1120.8L427,1121.5L417,1123.5L343,1126.6L286,1130L280,1131.3L190,1132.9L106,1132.9Z" fill="rgba(150,235,125,0.15)" stroke="none"/>
<path d="M106,1132.9L130,1131.9L149,1130L191,1129L206,1127.9L219,1126.5L224,1123.9L279,1121L313,1114L343,1113.1L363,1110.9L381,1110.4L406,1107.3L434,1106.7L440,1105.6L468,1105.3L486,1103.4L500,1103L514,1099.3L526,1099L540,1096.6L566,1093.6L580,1090.6L610,1088L636,1086.6L640,1084.5L643,1084L688,1080.4L701,1077.7L704,1075.1L733,1073.1L739,1071.4L743,1071.4L746,1070L759,1068.5L788,1067.1L802,1064.3L814,1063.6L862,1063L874,1061.8L890,1061.2L894,1059.7L940,1056.5L986,1059L1004,1062L1021,1062.7L1033,1065.7L1038,1066.1L1046,1065.1L1052,1066.5L1071,1075.6L1089,1078.9L1127,1089.8L1132,1092.1L1149,1103.1L1155,1106L1159,1107.5L1167,1108.7L1178,1111.6L1189,1116.6L1196,1118.4L1206,1122.4L1223,1126.2L1260,1132.4L1270,1132.9L1645,1132.9L1645,1132.9L1230,1132.9L1218,1132L1155,1124.3L1147,1121.1L1138,1119.8L1123,1115L1114,1110.8L1097,1105.6L1089,1102.1L1061,1092.5L1041,1088.7L1000,1082L990,1081.9L970,1083.5L954,1080.6L935,1078.8L900,1080.4L878,1080.6L872,1081.6L856,1082.1L851,1083.4L821,1082.5L789,1082.8L779,1084L770,1086L741,1087.3L693,1093.6L665,1095.1L652,1096.6L629,1097.5L620,1099L580,1101.9L528,1103L516,1105L487,1107.2L476,1108.6L462,1111.7L426,1113.5L381,1119L333,1121L312,1123.1L276,1125L200,1131.4L164,1131.8L148,1132.9L106,1132.9Z" fill="rgba(109,234,236,0.15)" stroke="none"/>
<path d="M106,1126.8L110,1127.3L119,1125.7L144,1126.3L148,1125.5L152,1121.2L155,1120.8L178,1120.6L194,1118.3L232,1118.6L236,1116L241,1110.5L257,1110.6L262,1109.5L271,1108.9L309,1108.3L313,1106.5L338,1105.3L343,1103.7L382,1103.4L389,1101.7L410,1100.3L444,1099.7L482,1096.3L503,1095.8L507,1093.8L516,1093.2L524,1091.3L528,1091.1L538,1082.3L540,1078.6L599,1075.8L608,1072.7L620,1072.1L625,1071.1L649,1070.3L654,1068.3L662,1067.8L678,1065.2L688,1065L692,1063.6L697,1063.3L700,1062.4L704,1059.7L717,1057.8L733,1056.4L772,1054.8L822,1054.1L831,1052.2L839,1052.1L843,1050.2L852,1048.2L865,1047.8L873,1046.3L894,1045.9L907,1046.3L928,1045.5L941,1047.6L958,1052.7L974,1054.3L979,1052.4L991,1051.2L996,1049.5L1012,1047.8L1041,1047.1L1046,1048.1L1055,1047.9L1067,1050.2L1075,1053.6L1088,1055.4L1100,1059.6L1122,1061.8L1126,1060.9L1135,1061.2L1155,1069.2L1168,1075.8L1172,1076.7L1177,1079L1181,1081.4L1184,1084.8L1194,1092.3L1203,1097.2L1207,1097.4L1212,1099.5L1222,1106.7L1228,1112L1235,1116L1257,1120.4L1278,1123.1L1325,1130.9L1366,1132.9L1552,1132.9L1565,1130.7L1577,1132.8L1593,1132.9L1598,1132.1L1611,1132.1L1615,1130.9L1645,1131.8L1645,1132.9L1270,1132.9L1260,1132.4L1223,1126.2L1206,1122.4L1196,1118.4L1189,1116.6L1178,1111.6L1167,1108.7L1159,1107.5L1155,1106L1149,1103.1L1132,1092.1L1127,1089.8L1089,1078.9L1071,1075.6L1052,1066.5L1046,1065.1L1038,1066.1L1033,1065.7L1021,1062.7L1004,1062L986,1059L940,1056.5L894,1059.7L890,1061.2L874,1061.8L862,1063L814,1063.6L802,1064.3L788,1067.1L759,1068.5L746,1070L743,1071.4L739,1071.4L733,1073.1L704,1075.1L701,1077.7L688,1080.4L643,1084L640,1084.5L636,1086.6L610,1088L580,1090.6L566,1093.6L540,1096.6L526,1099L514,1099.3L500,1103L486,1103.4L468,1105.3L440,1105.6L434,1106.7L406,1107.3L381,1110.4L363,1110.9L343,1113.1L313,1114L279,1121L224,1123.9L219,1126.5L206,1127.9L191,1129L149,1130L130,1131.9L106,1132.9Z" fill="rgba(0,0,228,0.15)" stroke="none"/>
<path d="M106,1132.9L326.1,1132.9L346.2,1131.6L500,1130.7L506,1129.8L544.2,1129.3L565.3,1127.9L591.5,1127.8L599.5,1126.2L611.6,1126.2L624.6,1124.5L658.8,1124.2L670.9,1122.6L679.9,1122.6L683.3,1121L709,1118.9L759.3,1119.1L768.3,1118.7L776.4,1117.6L780.8,1116.2L788.4,1115.8L810.6,1116.2L823.2,1114.9L855.8,1113.9L869.8,1114.7L900,1120.2L929.1,1122L940.2,1124.3L949.2,1124L970.4,1126.5L991.5,1126.6L1004.5,1127.8L1028.6,1128.3L1052.8,1131.9L1070.9,1132.9L1645,1132.9" stroke="rgba(218,47,33,0.5)" stroke-width="4"/>
<path d="M106,1132.9L178.4,1132.9L269.1,1129.6L305.7,1126.6L341,1125.2L351.5,1123.6L408.9,1120.9L455.3,1114.5L515.6,1111.5L539.7,1111.1L578.9,1107.9L581.9,1106.9L600,1106.5L652.8,1101.8L699,1099L723.1,1096.6L793.5,1092.9L853.8,1091.7L867.8,1089.9L877.9,1090.1L894,1088.7L908,1089.4L915.1,1088.5L946.2,1089.2L976.4,1092.3L991.5,1092.3L1000.5,1093.3L1016.6,1096.8L1025.6,1099.5L1054.8,1104.8L1062.8,1108.2L1079.9,1111.4L1092,1115.2L1101,1116.3L1125.1,1123L1151.3,1127.2L1185.4,1131.2L1201.5,1132.2L1221.6,1132.9L1645,1132.9" stroke="rgba(109,234,70,0.42)" stroke-width="4"/>
<path d="M106,1126.8L110.1,1127.3L118.6,1125.7L144.2,1126.3L147.7,1125.7L151.8,1121.3L154.8,1120.8L177.4,1120.7L194.5,1118.3L232.7,1118.6L236.7,1115.4L240.7,1110.5L257.8,1110.6L261.8,1109.5L270.9,1108.9L309,1108.3L313.1,1106.4L338.2,1105.3L342.2,1103.7L381.4,1103.5L384.4,1103.2L388.4,1101.7L414.6,1100.1L443.7,1099.7L481.9,1096.3L503,1095.8L507,1093.8L516.1,1093.2L524.1,1091.3L528.1,1091.1L538.6,1081.7L539.6,1078.6L599.5,1075.8L607.5,1072.7L620.6,1072.1L624.6,1071.1L649.7,1070.2L653.8,1068.3L661.8,1067.8L678.9,1065.1L687.9,1065L692.4,1063.5L696.6,1063.5L700,1062.4L704,1059.7L717.1,1057.8L733.2,1056.4L759.3,1055.8L772.4,1054.8L822.6,1054.1L830.7,1052.2L839.7,1052L843.1,1050.1L852.2,1048.2L864.8,1047.9L872.9,1046.3L894,1045.9L907,1046.3L928.1,1045.5L941.2,1047.7L958.3,1052.7L974.4,1054.4L978.4,1052.5L991.5,1051.2L995.5,1049.5L1003.5,1049.1L1011.6,1047.8L1033.7,1047.1L1041.7,1047.1L1045.7,1048.1L1054.8,1047.8L1066.8,1050.1L1075.5,1053.8L1079.5,1053.8L1087.9,1055.4L1100,1059.6L1113.1,1060.5L1121.7,1061.9L1126.1,1060.8L1134.8,1061.1L1155.3,1069.3L1168.3,1075.9L1172.4,1076.8L1177.4,1079.2L1181.4,1081.7L1183.4,1084.3L1193.5,1092L1202.5,1097.2L1206.5,1097.2L1211.6,1099.2L1231.7,1114.6L1235.7,1116.3L1257,1120.4L1278.1,1123.1L1324.4,1130.9L1365.6,1132.9L1552.5,1132.9L1564.6,1130.6L1576.6,1132.7L1593.7,1132.9L1597.7,1132.1L1611.8,1132.1L1614.8,1130.9L1645,1131.8" stroke="rgba(0,0,228,0.4)" stroke-width="4"/>
<path transform="translate(911.0,1084.0)" d="M0,4.53l4.53,4.53l4.53,-4.53l-4.53,-4.53l4.53,-4.53l-4.53,-4.53l-4.53,4.53l-4.53,-4.53l-4.53,4.53l4.53,4.53l-4.53,4.53l4.53,4.53Z" fill="rgba(109,234,70,0.8)"/>
</g>
<text x="81.0" y="938.7" font-size="24" fill="#2a3f5f" stroke="#2a3f5f" stroke-width="0.3">0</text>
<text x="81.0" y="849.8" font-size="24" fill="#2a3f5f" stroke="#2a3f5f" stroke-width="0.3">5</text>
<text x="65.8" y="760.8" font-size="24" fill="#2a3f5f" stroke="#2a3f5f" stroke-width="0.3">10</text>
<text x="65.8" y="671.9" font-size="24" fill="#2a3f5f" stroke="#2a3f5f" stroke-width="0.3">15</text>
<text x="65.8" y="583.0" font-size="24" fill="#2a3f5f" stroke="#2a3f5f" stroke-width="0.3">20</text>
<text x="65.8" y="494.0" font-size="24" fill="#2a3f5f" stroke="#2a3f5f" stroke-width="0.3">25</text>
<text x="65.8" y="405.1" font-size="24" fill="#2a3f5f" stroke="#2a3f5f" stroke-width="0.3">30</text>
<text x="65.8" y="316.1" font-size="24" fill="#2a3f5f" stroke="#2a3f5f" stroke-width="0.3">35</text>
<text x="65.8" y="227.2" font-size="24" fill="#2a3f5f" stroke="#2a3f5f" stroke-width="0.3">40</text>
<text x="196.5" y="1004.2" font-size="24" fill="#2a3f5f" stroke="#2a3f5f" stroke-width="0.3" textLength="79.2" lengthAdjust="spacing" xml:space="preserve">Nov  1</text>
<text y="1004.0" font-size="24" fill="#2a3f5f" stroke="#2a3f5f" stroke-width="0.3" xml:space="preserve"><tspan x="457.5 468.7 483.2" font-size="24.7" stroke-width="0.4" style="font-family:'Liberation Sans',sans-serif">Jan</tspan><tspan x="499.4">  1</tspan></text>
<text x="707.5" y="1004.2" font-size="24" fill="#2a3f5f" stroke="#2a3f5f" stroke-width="0.3" textLength="77.1" lengthAdjust="spacing" xml:space="preserve">Mar  1</text>
<text x="963.0" y="1004.2" font-size="24" fill="#2a3f5f" stroke="#2a3f5f" stroke-width="0.3" textLength="80.5" lengthAdjust="spacing" xml:space="preserve">May  1</text>
<text y="1004.0" font-size="24" fill="#2a3f5f" stroke="#2a3f5f" stroke-width="0.3" xml:space="preserve"><tspan x="1228.4 1239.7 1255.5" font-size="24.7" stroke-width="0.4" style="font-family:'Liberation Sans',sans-serif">Jul</tspan><tspan x="1262.3">  1</tspan></text>
<text x="1483.4" y="1004.2" font-size="24" fill="#2a3f5f" stroke="#2a3f5f" stroke-width="0.3" textLength="77.6" lengthAdjust="spacing" xml:space="preserve">Sep  1</text>
<text transform="translate(33.7,761.3) rotate(-90)" x="0" y="0" font-size="28" fill="#2a3f5f" stroke="#2a3f5f" stroke-width="0.3" letter-spacing="0.08">Snow Water Equivalent <tspan dx="1.2" letter-spacing="0.9">(in.)</tspan></text>
<text x="104.7" y="55.8" font-size="35" fill="#2a3f5f" stroke="#2a3f5f" stroke-width="0.3" textLength="527.2" lengthAdjust="spacing" xml:space="preserve">SNOW WATER EQUIVALENT IN</text>
<text x="103.7" y="99.9" font-size="35" fill="#2a3f5f" stroke="#2a3f5f" stroke-width="0.3" textLength="196.1" lengthAdjust="spacing" xml:space="preserve">UPPER SAN</text>
<text x="310.6" y="99.9" font-size="35.6" fill="#2a3f5f" stroke="#2a3f5f" stroke-width="0.6" textLength="89.6" lengthAdjust="spacingAndGlyphs" style="font-family:'Liberation Sans',sans-serif">JUAN</text>
<rect x="122" y="118" width="170" height="38" rx="6" fill="#d4d4d4"/>
<text x="132.0" y="142.8" font-size="24" fill="#2a3f5f" stroke="#2a3f5f" stroke-width="0.3" textLength="150.5" lengthAdjust="spacing" xml:space="preserve">Reset Range</text>
<text x="1386.7" y="147.6" font-size="20" fill="#2a3f5f" stroke="#2a3f5f" stroke-width="0.3" textLength="128.5" lengthAdjust="spacing" xml:space="preserve">Link to data:</text>
<a href="#csv">
<text x="1521.7" y="147.6" font-size="20" fill="#4472ca" stroke="#4472ca" stroke-width="0.3" textLength="41.9" lengthAdjust="spacing" xml:space="preserve">CSV</text>
</a>
<text x="1570.6" y="147.6" font-size="20" fill="#2a3f5f" stroke="#2a3f5f" stroke-width="0.3" xml:space="preserve">/</text>
<a href="#json">
<text x="1586.7" y="147.6" font-size="20.4" fill="#4472ca" stroke="#4472ca" stroke-width="0.3" textLength="53.0" lengthAdjust="spacing" style="font-family:'Liberation Sans',sans-serif" xml:space="preserve">JSON</text>
</a>
<a href="#stations">
<text x="1678.2" y="147.6" font-size="20" fill="#4472ca" stroke="#4472ca" stroke-width="0.3" textLength="114.0" lengthAdjust="spacing" xml:space="preserve">Station List</text>
</a>
<rect x="131" y="197" width="306" height="138" fill="none" stroke="#a3a3a3" stroke-width="2" shape-rendering="crispEdges"/>
<text x="136.2" y="221.8" font-size="20" fill="#2a3f5f" stroke="#2a3f5f" stroke-width="0.3" textLength="268.1" lengthAdjust="spacing" xml:space="preserve">Current as of 11/27/2022:</text>
<text x="136.2" y="247.8" font-size="20" fill="#2a3f5f" stroke="#2a3f5f" stroke-width="0.3" textLength="196.5" lengthAdjust="spacing" xml:space="preserve">% of Median - 88%</text>
<text x="136.2" y="273.8" font-size="20" fill="#2a3f5f" stroke="#2a3f5f" stroke-width="0.3" textLength="224.7" lengthAdjust="spacing" xml:space="preserve">% Median Peak - 15%</text>
<text x="136.2" y="299.8" font-size="20" fill="#2a3f5f" stroke="#2a3f5f" stroke-width="0.3" textLength="296.6" lengthAdjust="spacing" xml:space="preserve">Days Until Median Peak - 134</text>
<text x="136.2" y="325.8" font-size="20" fill="#2a3f5f" stroke="#2a3f5f" stroke-width="0.3" textLength="146.4" lengthAdjust="spacing" xml:space="preserve">Percentile - 39</text>
<rect x="1677" y="158" width="340" height="810" fill="#fff" stroke="#e2e2e2" stroke-width="4"/>
<rect x="1989" y="167" width="1" height="392" fill="#949db3"/>
<g>
<path transform="translate(1719.5,189.0)" d="M0,4.525l4.525,4.525l4.525,-4.525l-4.525,-4.525l4.525,-4.525l-4.525,-4.525l-4.525,4.525l-4.525,-4.525l-4.525,4.525l4.525,4.525l-4.525,4.525l4.525,4.525Z" fill="#8fee6c"/>
<text x="1759.0" y="198.2" font-size="24" fill="#2a3f5f" stroke="#2a3f5f" stroke-width="0.3" textLength="215.1" lengthAdjust="spacing" xml:space="preserve">Median Peak SWE</text>
</g>
<g>
<rect x="1689" y="225.0" width="60" height="4" fill="#9999f4"/>
<text x="1759.0" y="236.2" font-size="24" fill="#2a3f5f" stroke="#2a3f5f" stroke-width="0.3" textLength="48.8" lengthAdjust="spacing" xml:space="preserve">Max</text>
</g>
<g opacity="0.5">
<rect x="1689" y="263.0" width="18" height="4" fill="#b7f5a3"/><rect x="1725" y="263.0" width="18" height="4" fill="#b7f5a3"/>
<text x="1759.0" y="274.2" font-size="24" fill="#2a3f5f" stroke="#2a3f5f" stroke-width="0.3" textLength="166.0" lengthAdjust="spacing" xml:space="preserve">Median (POR)</text>
</g>
<g>
<rect x="1689" y="301.0" width="60" height="4" fill="#b7f5a3"/>
<text x="1759.0" y="312.2" font-size="24" fill="#2a3f5f" stroke="#2a3f5f" stroke-width="0.3" textLength="201.0" lengthAdjust="spacing" xml:space="preserve">Median ('91-'20)</text>
</g>
<g>
<rect x="1689" y="339.0" width="60" height="4" fill="#ea8d86"/>
<text x="1759.0" y="350.2" font-size="24" fill="#2a3f5f" stroke="#2a3f5f" stroke-width="0.3" textLength="41.9" lengthAdjust="spacing" xml:space="preserve">Min</text>
</g>
<g>
<rect x="1689" y="373.0" width="60" height="12" fill="#effcec"/>
<text x="1760.0" y="388.2" font-size="24" fill="#2a3f5f" stroke="#2a3f5f" stroke-width="0.3" textLength="176.1" lengthAdjust="spacing" xml:space="preserve">Stats. Shading</text>
</g>
<g>
<rect x="1689" y="415.0" width="60" height="4" fill="#000000"/>
<text x="1760.0" y="426.2" font-size="24" fill="#2a3f5f" stroke="#2a3f5f" stroke-width="0.3" textLength="169.5" lengthAdjust="spacing" xml:space="preserve">2023 (6 sites)</text>
</g>
<g>
<rect x="1689" y="453.0" width="60" height="4" fill="#5fd0ee"/>
<text x="1760.0" y="464.2" font-size="24" fill="#2a3f5f" stroke="#2a3f5f" stroke-width="0.3" textLength="169.5" lengthAdjust="spacing" xml:space="preserve">2022 (6 sites)</text>
</g>
<g>
<rect x="1689" y="491.0" width="60" height="4" fill="#f2a362"/>
<text x="1760.0" y="502.2" font-size="24" fill="#2a3f5f" stroke="#2a3f5f" stroke-width="0.3" textLength="169.5" lengthAdjust="spacing" xml:space="preserve">2021 (6 sites)</text>
</g>
<g>
<rect x="1689" y="529.0" width="60" height="4" fill="#a26bf3"/>
<text x="1760.0" y="540.2" font-size="24" fill="#2a3f5f" stroke="#2a3f5f" stroke-width="0.3" textLength="169.5" lengthAdjust="spacing" xml:space="preserve">2020 (6 sites)</text>
</g>
<g>
<rect x="1689" y="567.0" width="60" height="4" fill="#5ec898"/>
<text x="1760.0" y="578.2" font-size="24" fill="#2a3f5f" stroke="#2a3f5f" stroke-width="0.3" textLength="169.5" lengthAdjust="spacing" xml:space="preserve">2019 (6 sites)</text>
</g>
<g opacity="0.5">
<rect x="1689" y="605.0" width="60" height="4" fill="#dc5f45"/>
<text x="1760.0" y="616.2" font-size="24" fill="#2a3f5f" stroke="#2a3f5f" stroke-width="0.3" textLength="169.5" lengthAdjust="spacing" xml:space="preserve">2018 (6 sites)</text>
</g>
<g opacity="0.5">
<rect x="1689" y="643.0" width="60" height="4" fill="#6872ee"/>
<text x="1760.0" y="654.2" font-size="24" fill="#2a3f5f" stroke="#2a3f5f" stroke-width="0.3" textLength="169.5" lengthAdjust="spacing" xml:space="preserve">2017 (6 sites)</text>
</g>
<g opacity="0.5">
<rect x="1689" y="681.0" width="60" height="4" fill="#f7cc62"/>
<text x="1760.0" y="692.2" font-size="24" fill="#2a3f5f" stroke="#2a3f5f" stroke-width="0.3" textLength="169.5" lengthAdjust="spacing" xml:space="preserve">2016 (6 sites)</text>
</g>
<g opacity="0.5">
<rect x="1689" y="719.0" width="60" height="4" fill="#f29df5"/>
<text x="1760.0" y="730.2" font-size="24" fill="#2a3f5f" stroke="#2a3f5f" stroke-width="0.3" textLength="169.5" lengthAdjust="spacing" xml:space="preserve">2015 (6 sites)</text>
</g>
<g opacity="0.5">
<rect x="1689" y="757.0" width="60" height="4" fill="#bde68a"/>
<text x="1760.0" y="768.2" font-size="24" fill="#2a3f5f" stroke="#2a3f5f" stroke-width="0.3" textLength="169.5" lengthAdjust="spacing" xml:space="preserve">2014 (6 sites)</text>
</g>
<g opacity="0.5">
<rect x="1689" y="795.0" width="60" height="4" fill="#ee6f92"/>
<text x="1760.0" y="806.2" font-size="24" fill="#2a3f5f" stroke="#2a3f5f" stroke-width="0.3" textLength="169.5" lengthAdjust="spacing" xml:space="preserve">2013 (6 sites)</text>
</g>
<g opacity="0.5">
<rect x="1689" y="833.0" width="60" height="4" fill="#5fd0ee"/>
<text x="1760.0" y="844.2" font-size="24" fill="#2a3f5f" stroke="#2a3f5f" stroke-width="0.3" textLength="169.5" lengthAdjust="spacing" xml:space="preserve">2012 (6 sites)</text>
</g>
<g opacity="0.5">
<rect x="1689" y="871.0" width="60" height="4" fill="#f2a362"/>
<text x="1760.0" y="882.2" font-size="24" fill="#2a3f5f" stroke="#2a3f5f" stroke-width="0.3" textLength="169.5" lengthAdjust="spacing" xml:space="preserve">2011 (6 sites)</text>
</g>
<g opacity="0.5">
<rect x="1689" y="909.0" width="60" height="4" fill="#a26bf3"/>
<text x="1760.0" y="920.2" font-size="24" fill="#2a3f5f" stroke="#2a3f5f" stroke-width="0.3" textLength="169.5" lengthAdjust="spacing" xml:space="preserve">2010 (5 sites)</text>
</g>
<g opacity="0.5">
<rect x="1689" y="947.0" width="60" height="4" fill="#5ec898"/>
<text x="1760.0" y="958.2" font-size="24" fill="#2a3f5f" stroke="#2a3f5f" stroke-width="0.3" textLength="169.5" lengthAdjust="spacing" xml:space="preserve">2009 (5 sites)</text>
</g>
<rect x="101.3" y="1064.9" width="7.4" height="48" rx="3" fill="#fff" stroke="#3a3a3a" stroke-width="2"/>
<rect x="1642.2" y="1064.9" width="7.4" height="48" rx="3" fill="#fff" stroke="#3a3a3a" stroke-width="2"/>
<g>
<text transform="translate(1680.2,1043.2) scale(0.86,1)" x="1.6 53.3 101.7 153" y="0" font-size="77.5" font-weight="bold" fill="#5474a2" style="font-family:'Liberation Serif',serif">USDA</text>
<path d="M1685.1,1088.2C1688.2,1087.2 1697.8,1083.9 1703.8,1081.9C1709.8,1079.9 1715.3,1078.0 1721.1,1076.5C1726.8,1075.0 1732.6,1073.8 1738.3,1072.7C1744.1,1071.5 1749.8,1070.5 1755.6,1069.6C1761.4,1068.7 1767.1,1067.9 1772.9,1067.3C1778.6,1066.6 1784.4,1066.2 1790.1,1065.8C1795.9,1065.4 1801.7,1065.0 1807.4,1064.7C1813.2,1064.5 1818.9,1064.2 1824.7,1064.1C1830.4,1063.9 1836.4,1063.9 1842.0,1063.9C1847.6,1063.9 1855.6,1064.0 1858.3,1064.1V1112.4H1685.1Z" fill="#5c8370"/>
<path d="M1685.6,1081.9C1688.6,1080.6 1697.9,1076.3 1703.8,1073.8C1709.7,1071.4 1715.3,1069.1 1721.1,1067.3C1726.8,1065.5 1732.6,1064.4 1738.3,1063.1C1744.1,1061.9 1749.8,1060.7 1755.6,1059.7C1761.4,1058.6 1767.1,1057.7 1772.9,1056.9C1778.6,1056.1 1784.4,1055.4 1790.1,1054.7C1795.9,1054.1 1801.7,1053.5 1807.4,1053.0C1813.2,1052.5 1818.9,1052.0 1824.7,1051.6C1830.4,1051.3 1836.4,1051.0 1842.0,1050.8C1847.6,1050.6 1855.6,1050.5 1858.3,1050.5L1858.3,1058.1C1855.6,1058.1 1847.6,1058.0 1842.0,1058.1C1836.4,1058.1 1830.4,1058.2 1824.7,1058.4C1818.9,1058.6 1813.2,1058.9 1807.4,1059.3C1801.7,1059.7 1795.9,1060.2 1790.1,1060.7C1784.4,1061.3 1778.6,1061.9 1772.9,1062.6C1767.1,1063.2 1761.4,1064.0 1755.6,1064.9C1749.8,1065.7 1744.1,1066.7 1738.3,1067.7C1732.6,1068.8 1726.8,1069.8 1721.1,1071.3C1715.3,1072.8 1709.7,1074.7 1703.8,1076.5C1697.9,1078.3 1688.6,1081.0 1685.6,1081.9Z" fill="#5c8370"/>
<path d="M1685.1,1050.5C1687.3,1050.6 1693.0,1050.9 1698.0,1051.4C1703.1,1051.9 1709.5,1052.8 1715.3,1053.7C1721.1,1054.6 1727.8,1056.0 1732.6,1056.9C1737.4,1057.9 1742.2,1059.0 1744.1,1059.4L1744.1,1059.4C1742.2,1059.2 1736.4,1058.5 1732.6,1058.2C1728.7,1057.8 1725.9,1057.5 1721.1,1057.3C1716.3,1057.0 1709.8,1056.8 1703.8,1056.8C1697.8,1056.8 1688.2,1057.1 1685.1,1057.1Z" fill="#5c8370"/>
<path d="M1685.1,1062.3C1688.2,1062.3 1698.8,1062.0 1703.8,1062.0C1708.8,1062.0 1711.5,1062.1 1715.3,1062.2C1719.1,1062.4 1724.9,1062.8 1726.8,1062.9L1726.8,1062.9C1724.9,1063.1 1719.1,1063.5 1715.3,1063.9C1711.5,1064.4 1708.8,1064.6 1703.8,1065.4C1698.8,1066.3 1688.2,1068.3 1685.1,1068.9Z" fill="#5c8370"/>
</g>
<text x="6.6" y="1209.8" font-size="20" fill="#000" stroke="#000" stroke-width="0.35" textLength="738.9" lengthAdjust="spacing" xml:space="preserve">Statistical shading breaks at 10th, 30th, 50th, 70th, and 90th Percentiles</text>
<rect x="0" y="501" width="38" height="201" fill="#346fe8"/>
<text transform="translate(-2.7,521.3) rotate(90)" x="0" y="0" font-size="24" fill="#fff" stroke="#fff" stroke-width="0.4" style="font-family:'Liberation Sans',sans-serif">Give Feedback</text>
</svg></body></html>
